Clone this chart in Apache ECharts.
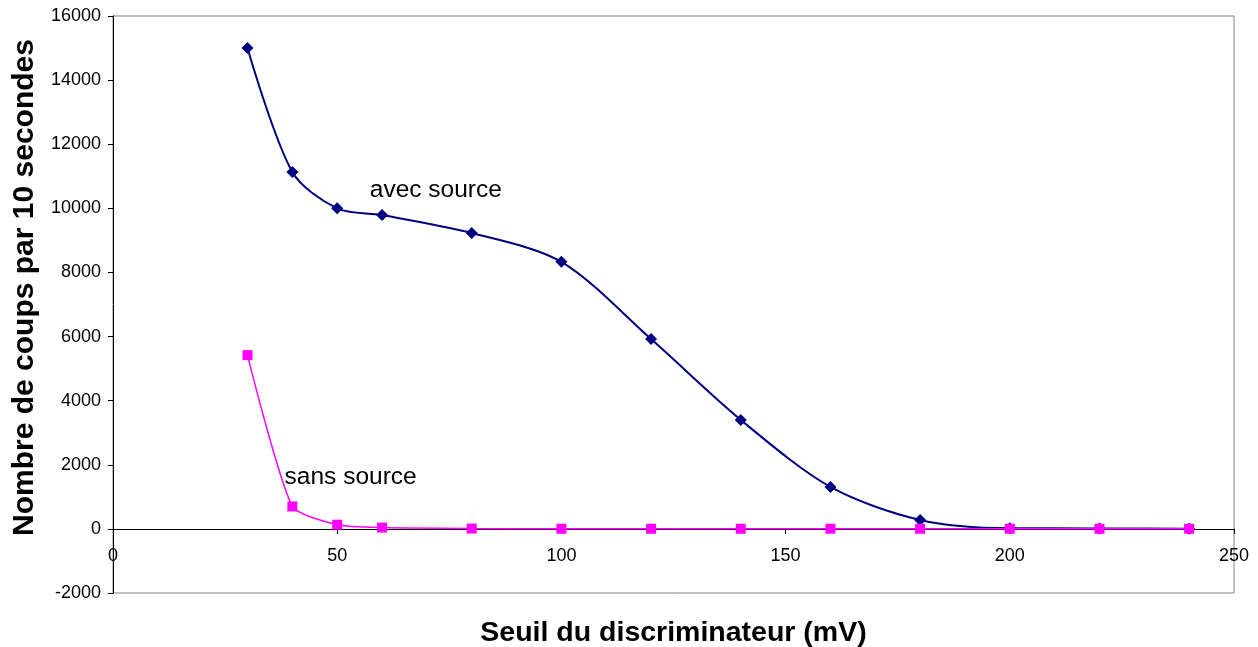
<!DOCTYPE html>
<html>
<head>
<meta charset="utf-8">
<script src="https://cdn.jsdelivr.net/npm/echarts@6/dist/echarts.min.js"></script>
<style>
  html, body { margin: 0; padding: 0; background: #fff; }
  #chart { width: 1258px; height: 647px; }
</style>
</head>
<body>
<div id="chart"></div>
<script>
// Discriminator threshold (mV)
const seuils = [30, 40, 50, 60, 80, 100, 120, 140, 160, 180, 200, 220, 240];
// Counts per 10 s with the source in place
const avecSource = [15000, 11130, 10000, 9790, 9230, 8330, 5920, 3400, 1310, 280, 20, 15, 5];
// Counts per 10 s without source (background)
const sansSource = [5420, 700, 130, 40, 10, 5, 5, 5, 5, 5, 5, 5, 5];

// Curve labels, placed in data space
const labelAvec = { text: 'avec source', x: 72, y: 10550 };
const labelSans = { text: 'sans source', x: 53, y: 1620 };

const font = '"Liberation Sans", Arial, sans-serif';

const pairs = (xs, ys) => xs.map((x, i) => [x, ys[i]]);

const chart = echarts.init(document.getElementById('chart'), null, { renderer: 'canvas' });

chart.setOption({
  animation: false,
  backgroundColor: '#ffffff',
  grid: {
    left: 113, right: 24, top: 16, bottom: 54,
    outerBoundsMode: 'none',
    containLabel: false,
    show: true, borderColor: '#808080', borderWidth: 1, backgroundColor: 'transparent'
  },
  xAxis: {
    type: 'value',
    min: 0, max: 250, interval: 50,
    axisLine: { onZero: true, lineStyle: { color: '#000', width: 1 } },
    axisTick: { show: true, inside: false, length: 5, lineStyle: { color: '#000' } },
    // tick labels sit just under the zero line, above the plot's lower edge
    axisLabel: { color: '#000', fontFamily: font, fontSize: 18, margin: -46, formatter: v => String(v) },
    splitLine: { show: false },
    name: 'Seuil du discriminateur (mV)',
    nameLocation: 'middle',
    nameGap: 26,
    nameTextStyle: { color: '#000', fontFamily: font, fontSize: 28.5, fontWeight: 'bold' }
  },
  yAxis: {
    type: 'value',
    min: -2000, max: 16000, interval: 2000,
    axisLine: { show: true, onZero: false, lineStyle: { color: '#000', width: 1 } },
    axisTick: { show: true, inside: false, length: 5, lineStyle: { color: '#000' } },
    axisLabel: { color: '#000', fontFamily: font, fontSize: 18, margin: 12, formatter: v => String(v) },
    splitLine: { show: false },
    name: 'Nombre de coups par 10 secondes',
    nameLocation: 'middle',
    nameGap: 72,
    nameTextStyle: { color: '#000', fontFamily: font, fontSize: 30, fontWeight: 'bold', padding: [0, 0, 0, 34] }
  },
  series: [
    {
      name: 'sans source',
      type: 'line',
      data: pairs(seuils, sansSource),
      smooth: 0.2,
      symbol: 'rect',
      symbolSize: 10,
      lineStyle: { color: '#ff00ff', width: 1.5 },
      itemStyle: { color: '#ff00ff' },
      z: 3,
      markPoint: {
        symbol: 'circle', symbolSize: 0,
        silent: true,
        label: { show: true, formatter: labelSans.text, color: '#000', fontFamily: font, fontSize: 24.5, position: 'inside' },
        data: [{ coord: [labelSans.x, labelSans.y] }]
      }
    },
    {
      name: 'avec source',
      type: 'line',
      data: pairs(seuils, avecSource),
      smooth: 0.3,
      symbol: 'diamond',
      symbolSize: 12,
      lineStyle: { color: '#000080', width: 2 },
      itemStyle: { color: '#000080' },
      z: 2,
      markPoint: {
        symbol: 'circle', symbolSize: 0,
        silent: true,
        label: { show: true, formatter: labelAvec.text, color: '#000', fontFamily: font, fontSize: 24.5, position: 'inside' },
        data: [{ coord: [labelAvec.x, labelAvec.y] }]
      }
    }
  ]
});
</script>
</body>
</html>
